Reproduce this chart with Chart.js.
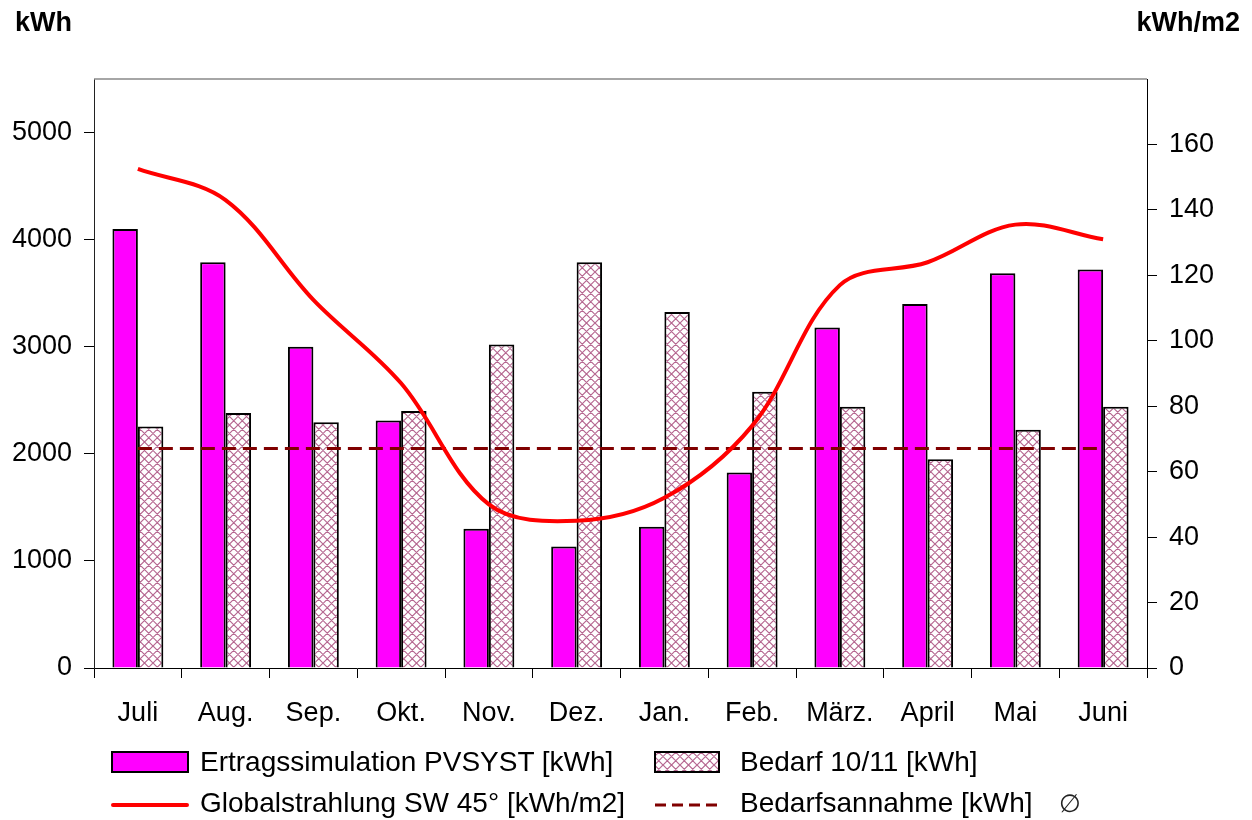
<!DOCTYPE html>
<html><head><meta charset="utf-8">
<script src="https://cdn.jsdelivr.net/npm/chart.js@4/dist/chart.umd.min.js"></script>
<style>
html,body{margin:0;padding:0;background:#fff;}
#wrap{position:relative;width:1252px;height:820px;font-family:"Liberation Sans",Arial,sans-serif;overflow:hidden;}
#c{position:absolute;left:0;top:0;}
.t{position:absolute;font-size:28px;color:#000;white-space:nowrap;line-height:28px;}
.b{font-weight:bold;font-size:27px;}
</style></head>
<body>
<div id="wrap">
<canvas id="c" width="1252" height="820"></canvas>
<div class="t b" style="left:15px;top:8px;">kWh</div>
<div class="t b" style="right:12px;top:8px;">kWh/m2</div>
<div class="t" style="left:200px;top:748px;">Ertragssimulation PVSYST [kWh]</div>
<div class="t" style="left:740px;top:748px;">Bedarf 10/11 [kWh]</div>
<div class="t" style="left:200px;top:789px;">Globalstrahlung SW 45° [kWh/m2]</div>
<div class="t" style="left:740px;top:789px;">Bedarfsannahme [kWh]</div>
<div class="t" style="left:1059px;top:789px;font-size:25px;color:#222;">∅</div>
</div>
<script>
const months = ['Juli','Aug.','Sep.','Okt.','Nov.','Dez.','Jan.','Feb.','März.','April','Mai','Juni'];
const ertrag = [4100, 3790, 3000, 2310, 1300, 1135, 1320, 1825, 3180, 3400, 3685, 3720];
const bedarf = [2255, 2380, 2295, 2400, 3020, 3790, 3325, 2580, 2440, 1950, 2225, 2440];
const globalStrahlung = [152.5, 143, 112.5, 87, 50, 45, 52, 74, 117, 124, 135.5, 131];
const bedarfsannahme = [2050, 2050, 2050, 2050, 2050, 2050, 2050, 2050, 2050, 2050, 2050, 2050];
const kwhTicks = [0, 1000, 2000, 3000, 4000, 5000];
const kwhm2Ticks = [0, 20, 40, 60, 80, 100, 120, 140, 160];

function makeHatch(){
  const S = 17;
  const c = document.createElement('canvas'); c.width = S; c.height = S;
  const g = c.getContext('2d');
  g.fillStyle = '#fff'; g.fillRect(0,0,S,S);
  g.strokeStyle = 'rgb(182,104,145)'; g.lineWidth = 1.2;
  g.beginPath();
  for (let k = -S; k <= 2*S; k += S/2) {
    g.moveTo(-S, -S + k); g.lineTo(2*S, 2*S + k);      // y = x + k
    g.moveTo(-S, S + k);  g.lineTo(2*S, -2*S + k);     // y = -x + k
  }
  g.stroke();
  return g.createPattern(c, 'repeat');
}
const hatch = makeHatch();
const FONT = {family: '"Liberation Sans", Arial, sans-serif', size: 27};

const framePlugin = {
  id: 'frame',
  afterDraw(chart){
    const ctx = chart.ctx, a = chart.chartArea;
    ctx.save();
    ctx.strokeStyle = '#888'; ctx.lineWidth = 1.5;
    ctx.beginPath(); ctx.moveTo(a.left, a.top); ctx.lineTo(a.right, a.top); ctx.stroke();
    // legend markers
    ctx.fillStyle = '#ff00ff'; ctx.fillRect(112, 752, 76, 20);
    ctx.strokeStyle = '#000'; ctx.lineWidth = 2; ctx.strokeRect(112, 752, 76, 20);
    ctx.fillStyle = hatch; ctx.fillRect(655, 752, 64, 20);
    ctx.strokeRect(655, 752, 64, 20);
    ctx.strokeStyle = '#ff0000'; ctx.lineWidth = 4; ctx.lineCap = 'round';
    ctx.beginPath(); ctx.moveTo(113, 805); ctx.lineTo(187, 805); ctx.stroke();
    ctx.strokeStyle = '#800000'; ctx.lineWidth = 3; ctx.lineCap = 'butt'; ctx.setLineDash([11, 6]);
    ctx.beginPath(); ctx.moveTo(655, 805); ctx.lineTo(722, 805); ctx.stroke();
    ctx.restore();
  }
};

new Chart(document.getElementById('c'), {
  data: {
    labels: months,
    datasets: [
      {type:'line', label:'Globalstrahlung SW 45° [kWh/m2]', data: globalStrahlung, yAxisID:'y2',
       borderColor:'#ff0000', borderWidth:4, pointRadius:0, tension:0.35, order:0, fill:false},
      {type:'line', label:'Bedarfsannahme [kWh]', data: bedarfsannahme, yAxisID:'y',
       borderColor:'#800000', borderWidth:3, borderDash:[14,7], pointRadius:0, order:1, fill:false},
      {type:'bar', label:'Ertragssimulation PVSYST [kWh]', data: ertrag, yAxisID:'y',
       backgroundColor:'#ff00ff', borderColor:'#000', borderWidth:2, order:2,
       barPercentage:1, categoryPercentage:0.58},
      {type:'bar', label:'Bedarf 10/11 [kWh]', data: bedarf, yAxisID:'y',
       backgroundColor: hatch, borderColor:'#000', borderWidth:2, order:2,
       barPercentage:1, categoryPercentage:0.58}
    ]
  },
  options: {
    responsive:false, animation:false, devicePixelRatio:1,
    layout:{padding:{left:0, right:0, top:79, bottom:92}},
    plugins:{legend:{display:false}, tooltip:{enabled:false}, title:{display:false}},
    scales:{
      x:{
        offset:true,
        grid:{display:true, drawOnChartArea:false, offset:true, tickLength:10, color:'#000', lineWidth:1},
        border:{display:true, color:'#000', width:1},
        ticks:{color:'#000', font:FONT, padding:19, maxRotation:0, autoSkip:false},
        afterFit(s){ s.height = 60; }
      },
      y:{
        position:'left', min:0, max:5500,
        afterBuildTicks(s){ s.ticks = kwhTicks.map(v => ({value:v})); },
        grid:{drawOnChartArea:false, tickLength:10, color:'#000'},
        border:{display:true, color:'#222', width:1},
        ticks:{color:'#000', font:FONT, padding:12, callback:(v) => String(v)},
        afterFit(s){ s.width = 94; }
      },
      y2:{
        position:'right', min:0, max:180,
        afterBuildTicks(s){ s.ticks = kwhm2Ticks.map(v => ({value:v})); },
        grid:{drawOnChartArea:false, tickLength:10, color:'#000'},
        border:{display:true, color:'#000', width:1},
        ticks:{color:'#000', font:FONT, padding:12, callback:(v) => String(v)},
        afterFit(s){ s.width = 105; }
      }
    }
  },
  plugins:[framePlugin]
});
</script>
</body></html>
